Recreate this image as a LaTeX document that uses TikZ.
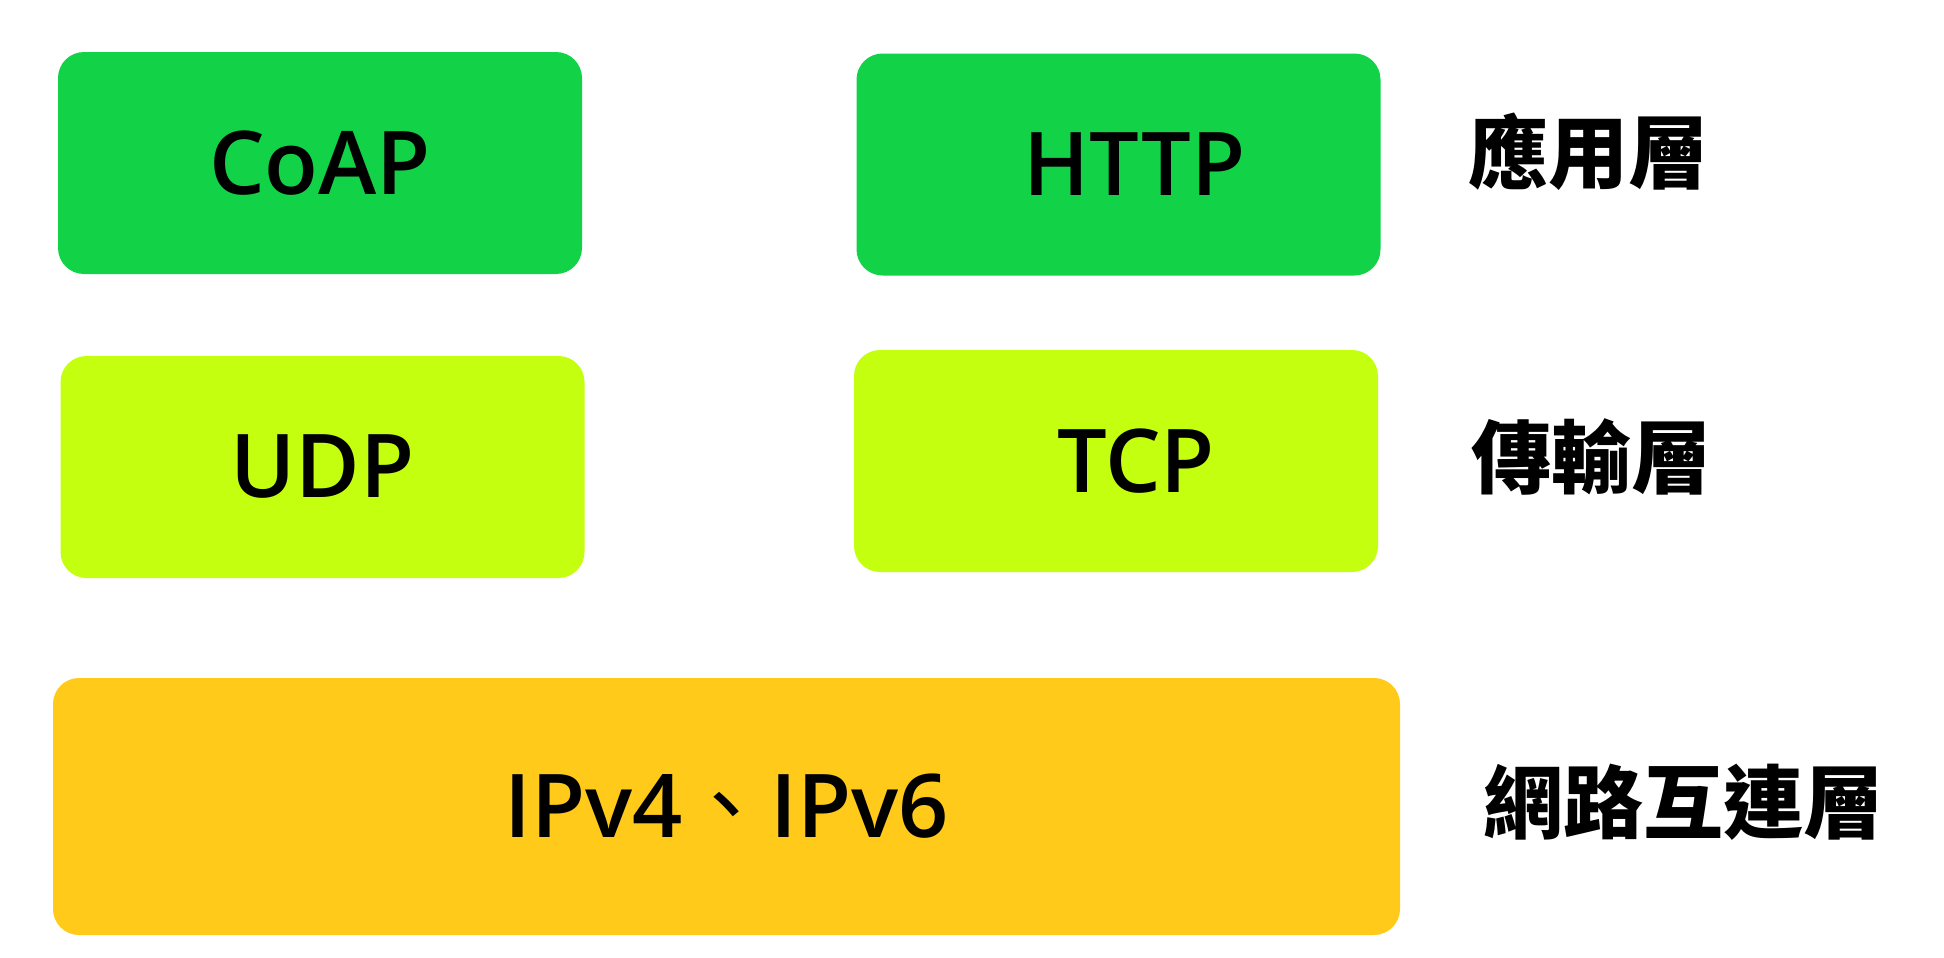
\documentclass[tikz,border=0pt]{standalone}
\usepackage{fontspec}
\IfFontExistsTF{Open Sans SemiBold}{\setmainfont{Open Sans SemiBold}}{%
	\IfFontExistsTF{Open Sans Semibold}{\setmainfont{Open Sans Semibold}}{%
		\setmainfont{Open Sans}[FakeBold=1.2]}}
\newfontfamily\cjk{Noto Sans CJK TC}
\usetikzlibrary{positioning}
\definecolor{appgreen}{HTML}{12D348}
\definecolor{translime}{HTML}{C3FF0F}
\definecolor{netyellow}{HTML}{FFCA1A}

\begin{document}
\begin{tikzpicture}[
x = 0.5pt, y = -0.5pt,
every node/.style = {
	font = \fontsize{44}{52}\selectfont
},
proto/.style = {
	rounded corners = 13pt,
	inner sep = 0pt,
	minimum width = 262pt,
	minimum height = 111pt
},
layer/.style = {
	anchor = west,
	inner sep = 0pt,
	font = \cjk\bfseries\fontsize{40}{48}\selectfont
}
]
\useasboundingbox (0,0) rectangle (1944,958);

% application layer
\node (coap) [proto, fill=appgreen] at (320,163) {CoAP};
\node (http) [proto, fill=appgreen] at (1118.5,164.5) {\hspace*{16pt}HTTP};

% transport layer
\node (udp) [proto, fill=translime] at (322.5,467) {UDP};
\node (tcp) [proto, fill=translime] at (1116,461) {\hspace*{20pt}TCP};

% internet layer
\node (ip) [proto, fill=netyellow, minimum width=673.5pt, minimum height=128.5pt] at (726.5,806.5) {IPv4{\cjk 、}IPv6};

\node (app_layer) [layer] at (1468,152) {應用層};
\node (trans_layer) [layer] at (1471,457) {傳輸層};
\node (net_layer) [layer] at (1483,802) {網路互連層};

\end{tikzpicture}
\end{document}
